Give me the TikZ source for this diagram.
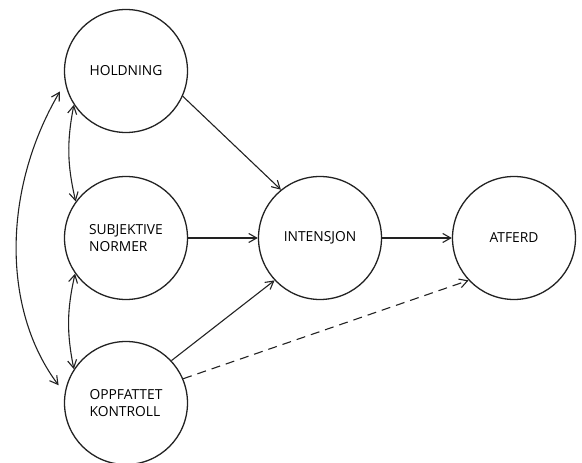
\documentclass[tikz,border=0pt]{standalone}
\usepackage{fontspec}
\setmainfont{Open Sans}
\usetikzlibrary{arrows.meta}
\definecolor{ink}{HTML}{222222}
\begin{document}
\begin{tikzpicture}[x=1pt,y=1pt,
  state/.style={circle,draw=ink,line width=1.3pt,minimum size=123pt,inner sep=0pt,
    align=left,font=\fontsize{13.8}{17}\selectfont,text=black},
  conn/.style={draw=ink,line width=1.1pt,-{Straight Barb[length=8pt,width=9pt,line width=1.1pt]}},
  both/.style={draw=ink,line width=1.1pt,{Straight Barb[length=8pt,width=9pt,line width=1.1pt]}-{Straight Barb[length=8pt,width=9pt,line width=1.1pt]}},
  dashconn/.style={conn,dash pattern=on 9pt off 6pt}]
\useasboundingbox (0,0) rectangle (582,463);
\node[state] (hold) at (126,392) {HOLDNING};
\node[state] (subj) at (126,225) {SUBJEKTIVE\\NORMER};
\node[state] (oppf) at (126,60) {OPPFATTET\\KONTROLL};
\node[state] (int) at (320,225) {INTENSJON};
\node[state] (atf) at (514,225) {ATFERD};
\draw[conn] (hold.-24) -- (int.129);
\draw[conn] (subj.east) -- (int.west);
\draw[conn] (oppf.43) -- (int.223);
\draw[conn] (int.east) -- (atf.west);
\draw[dashconn] (oppf.23) -- (atf.223);
\draw[both] (hold.213) to[bend right=12] (subj.144);
\draw[both] (subj.215) to[bend right=12] (oppf.147);
\draw[both,shorten <=10pt,shorten >=10pt] (hold.191) .. controls (2,273) and (2,153) .. (oppf.171);
\end{tikzpicture}
\end{document}
